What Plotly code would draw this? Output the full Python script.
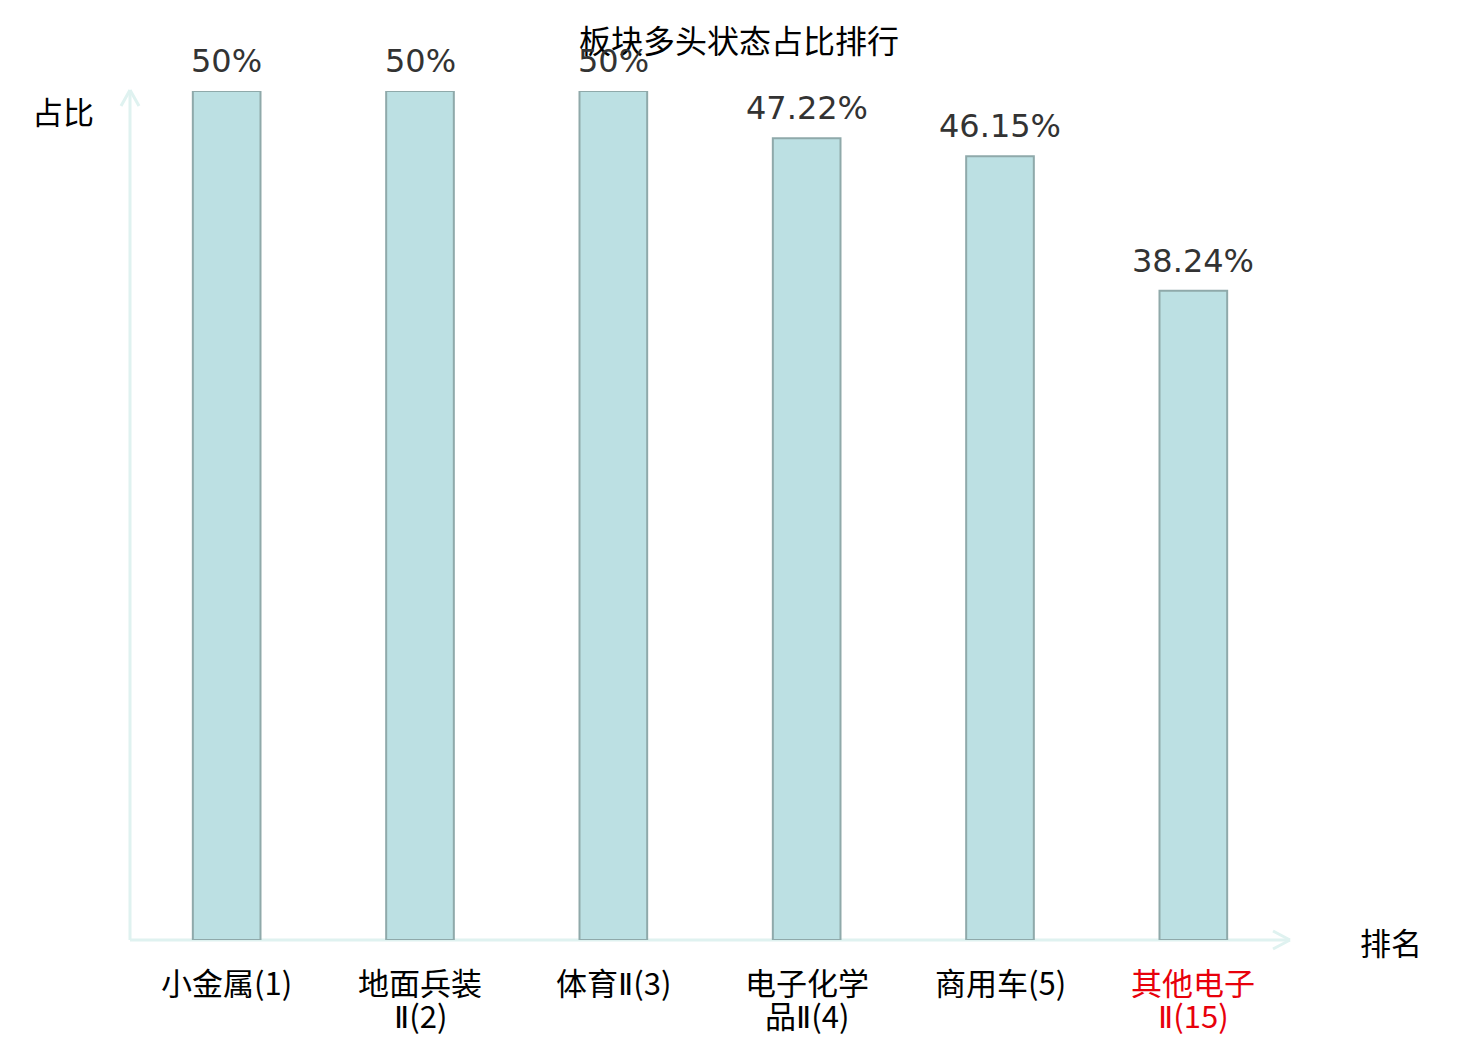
import plotly.graph_objects as go

categories = ["小金属(1)", "地面兵装<br>Ⅱ(2)", "体育Ⅱ(3)", "电子化学<br>品Ⅱ(4)", "商用车(5)", "其他电子<br>Ⅱ(15)"]
values = [50, 50, 50, 47.22, 46.15, 38.24]
value_labels = ["50%", "50%", "50%", "47.22%", "46.15%", "38.24%"]
highlight = [False, False, False, False, False, True]

W, H = 1480, 1040
OFF = 8  # page offset of the rendered figure
L, R, T, B = 122, 198, 83, 108
pw, ph = W - L - R, H - T - B

def px(x):
    return (x - OFF - L) / pw

def py(y):
    return (H - B - (y - OFF)) / ph

CJK = "Noto Sans CJK SC"
xs = list(range(len(categories)))

fig = go.Figure()
fig.add_trace(go.Bar(
    x=xs, y=values, width=0.35,
    marker=dict(color="#bce0e3", line=dict(color="#8fa9aa", width=2)),
    hoverinfo="skip", cliponaxis=False,
))

annotations = []
for x, v, t in zip(xs, values, value_labels):
    annotations.append(dict(x=x, y=v, xref="x", yref="y", text=t, showarrow=False,
                            yanchor="bottom", yshift=9,
                            font=dict(family="DejaVu Sans", size=32, color="#333333")))

line_y = [982, 1014]
for x, c, h in zip(xs, categories, highlight):
    color = "#e8000b" if h else "#000000"
    for i, part in enumerate(c.split("<br>")):
        part = part.replace("Ⅱ", '<span style="font-family:DejaVu Sans">Ⅱ</span>')
        annotations.append(dict(x=x, y=py(line_y[i]), xref="x", yref="paper", text=part,
                                showarrow=False, xanchor="center", yanchor="middle",
                                font=dict(family=CJK, size=31, color=color)))

annotations.append(dict(x=px(63), y=py(110), xref="paper", yref="paper", text="占比",
                        showarrow=False, xanchor="center", yanchor="middle",
                        font=dict(family=CJK, size=31, color="#000000")))
annotations.append(dict(x=px(1391), y=py(941), xref="paper", yref="paper", text="排名",
                        showarrow=False, xanchor="center", yanchor="middle",
                        font=dict(family=CJK, size=31, color="#000000")))

axc = "#dff2f0"
shapes = []
def seg(x0, y0, x1, y1):
    shapes.append(dict(type="line", xref="paper", yref="paper",
                       x0=px(x0), y0=py(y0), x1=px(x1), y1=py(y1),
                       line=dict(color=axc, width=3), layer="below"))
seg(130, 940, 1290, 940)
seg(130, 940, 130, 90)
seg(121, 106, 130, 90)
seg(139, 106, 130, 90)
seg(1273, 931, 1290, 940)
seg(1273, 949, 1290, 940)

fig.update_layout(
    width=W, height=H,
    margin=dict(l=L, r=R, t=T, b=B),
    paper_bgcolor="white", plot_bgcolor="white",
    showlegend=False,
    title=dict(text="板块多头状态占比排行", x=(739 - OFF) / W, xanchor="center", xref="container",
               y=1 - (42 - OFF) / H, yanchor="middle",
               font=dict(family=CJK, size=32, color="#000000")),
    xaxis=dict(range=[-0.5, 5.5], tickmode="array", tickvals=xs,
               showticklabels=False,
               showgrid=False, zeroline=False, showline=False, ticks=""),
    yaxis=dict(range=[0, 50], showgrid=False, zeroline=False, showline=False,
               showticklabels=False, ticks=""),
    annotations=annotations,
    shapes=shapes,
)
fig.write_html("out.html")
